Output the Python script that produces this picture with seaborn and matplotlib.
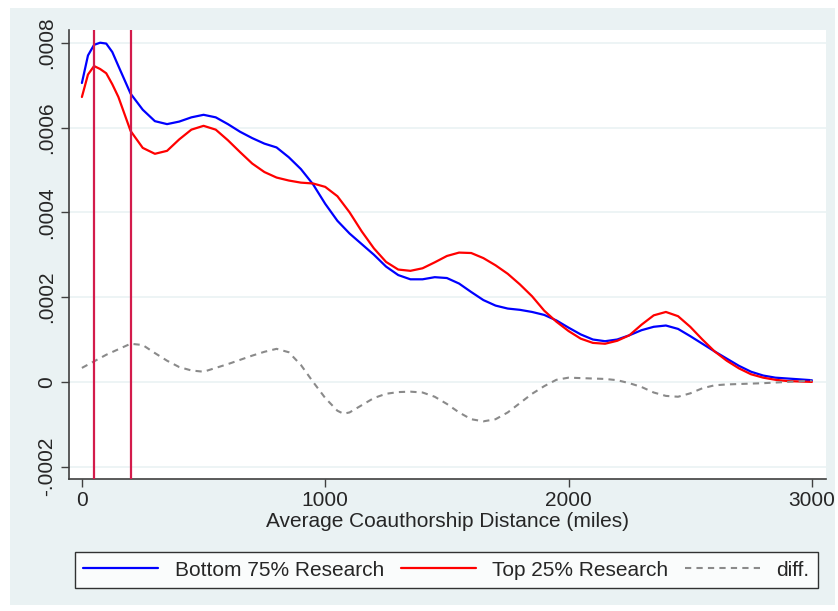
import numpy as np
import pandas as pd
import matplotlib
matplotlib.use('Agg')
import matplotlib.pyplot as plt
import seaborn as sns
from matplotlib.patches import Rectangle

# distance grid (miles) and kernel density values (x1e-4)
distance = [0, 25, 50, 75, 100, 125, 150, 200, 250, 300, 350, 400, 450, 500,
            550, 600, 650, 700, 750, 800, 850, 900, 950, 1000, 1050, 1100,
            1150, 1200, 1250, 1300, 1350, 1400, 1450, 1500, 1550, 1600, 1650,
            1700, 1750, 1800, 1850, 1900, 1950, 2000, 2050, 2100, 2150, 2200,
            2250, 2300, 2350, 2400, 2450, 2500, 2550, 2600, 2650, 2700, 2750,
            2800, 2850, 2900, 2950, 3000]
bottom75 = [7.05, 7.7, 7.95, 8.0, 7.98, 7.78, 7.45, 6.8, 6.42, 6.15, 6.08, 6.14,
            6.24, 6.30, 6.24, 6.08, 5.90, 5.75, 5.62, 5.53, 5.30, 5.02, 4.66,
            4.2, 3.8, 3.5, 3.25, 3.0, 2.72, 2.52, 2.42, 2.42, 2.47, 2.45, 2.32,
            2.12, 1.93, 1.8, 1.73, 1.7, 1.65, 1.58, 1.45, 1.28, 1.12, 1.0, 0.96,
            1.0, 1.1, 1.22, 1.3, 1.33, 1.25, 1.08, 0.9, 0.72, 0.55, 0.38, 0.24,
            0.15, 0.1, 0.08, 0.06, 0.04]
top25 = [6.72, 7.25, 7.45, 7.38, 7.28, 7.02, 6.72, 5.92, 5.52, 5.38, 5.45, 5.72,
         5.95, 6.04, 5.95, 5.7, 5.42, 5.15, 4.95, 4.82, 4.75, 4.7, 4.68, 4.6,
         4.38, 4.0, 3.55, 3.15, 2.83, 2.65, 2.62, 2.68, 2.82, 2.97, 3.05, 3.04,
         2.92, 2.75, 2.55, 2.3, 2.02, 1.68, 1.42, 1.2, 1.02, 0.92, 0.9, 0.97,
         1.1, 1.35, 1.57, 1.65, 1.55, 1.3, 1.0, 0.72, 0.5, 0.32, 0.18, 0.1,
         0.05, 0.02, 0.01, 0.0]

diff_x = [0, 100, 200, 250, 300, 350, 400, 450, 500, 550, 600, 650, 700, 750,
          800, 850, 900, 950, 1000, 1050, 1075, 1100, 1150, 1200, 1250, 1300,
          1350, 1400, 1450, 1500, 1550, 1600, 1650, 1700, 1750, 1800, 1850,
          1900, 1950, 2000, 2050, 2100, 2150, 2200, 2250, 2300, 2350, 2400,
          2450, 2500, 2550, 2600, 2650, 2700, 2800, 2900, 3000]
diff_y = [0.33, 0.64, 0.90, 0.87, 0.68, 0.5, 0.35, 0.27, 0.24, 0.33, 0.42,
          0.52, 0.62, 0.71, 0.78, 0.70, 0.40, 0.0, -0.38, -0.68, -0.75, -0.72,
          -0.55, -0.38, -0.28, -0.24, -0.23, -0.25, -0.35, -0.52, -0.72, -0.88,
          -0.93, -0.88, -0.72, -0.5, -0.28, -0.1, 0.05, 0.1, 0.09, 0.08, 0.07,
          0.04, -0.03, -0.12, -0.25, -0.33, -0.35, -0.27, -0.15, -0.08, -0.06,
          -0.05, -0.03, 0.0, 0.03]

cutoffs = [50, 200]
yticks = [-0.0002, 0, 0.0002, 0.0004, 0.0006, 0.0008]
ytick_labels = ['-.0002', '0', '.0002', '.0004', '.0006', '.0008']
xticks = [0, 1000, 2000, 3000]

dens = pd.DataFrame({'dist': distance,
                     'Bottom 75% Research': np.array(bottom75) * 1e-4,
                     'Top 25% Research': np.array(top25) * 1e-4})
dd = pd.DataFrame({'dist': diff_x, 'diff.': np.array(diff_y) * 1e-4})

sns.set_theme(style='white')
plt.rcParams['font.family'] = ['Liberation Sans', 'DejaVu Sans']

bg = '#eaf2f3'
fs = 15
fig = plt.figure(figsize=(8.38, 6.11), dpi=100, facecolor='white')
fig.patches.append(Rectangle((10 / 838, 6 / 611), 825 / 838, 597 / 611,
                             transform=fig.transFigure, facecolor=bg,
                             edgecolor='none', zorder=-10))
ax = fig.add_axes([69 / 838, 1 - 479 / 611, 757 / 838, 449 / 611])
ax.set_facecolor('white')

for y in yticks:
    ax.axhline(y, color=bg, lw=1.2, zorder=0)

sns.lineplot(data=dens, x='dist', y='Bottom 75% Research', ax=ax, color='#0000ff',
             lw=1.6, label='Bottom 75% Research')
sns.lineplot(data=dens, x='dist', y='Top 25% Research', ax=ax, color='#ff0000',
             lw=1.6, label='Top 25% Research')
sns.lineplot(data=dd, x='dist', y='diff.', ax=ax, color='#8a8a8a', lw=1.5,
             label='diff.', dashes=False, linestyle=(0, (3, 2.5)))
for c in cutoffs:
    ax.axvline(c, color='#d31b4b', lw=1.6, zorder=3)

ax.set_xlim(-53, 3058)
ax.set_ylim(-0.000229, 0.00083)
ax.set_xticks(xticks)
ax.set_xticklabels([str(t) for t in xticks], fontsize=fs)
ax.set_yticks(yticks)
ax.set_yticklabels(ytick_labels, fontsize=fs, rotation=90, va='center')
ax.tick_params(axis='both', direction='out', length=6, width=1, color='#404040',
               bottom=True, left=True, pad=3)
ax.set_xlabel('Average Coauthorship Distance (miles)', fontsize=fs, labelpad=1)
ax.set_ylabel('')
for s in ['top', 'right']:
    ax.spines[s].set_visible(False)
for s in ['left', 'bottom']:
    ax.spines[s].set_color('#404040')
    ax.spines[s].set_linewidth(1.2)

handles, labels = ax.get_legend_handles_labels()
ax.get_legend().remove()
leg = fig.legend(handles, labels, ncol=3, loc='lower left',
                 bbox_to_anchor=(75 / 838, 1 - 588 / 611, 743 / 838, 40 / 611),
                 mode='expand', fontsize=fs, handlelength=3.6, frameon=True,
                 fancybox=False, edgecolor='black', facecolor='white',
                 borderaxespad=0, handletextpad=0.8)
leg.get_frame().set_linewidth(1.0)

fig.savefig('out.png', dpi=100, facecolor='white')
